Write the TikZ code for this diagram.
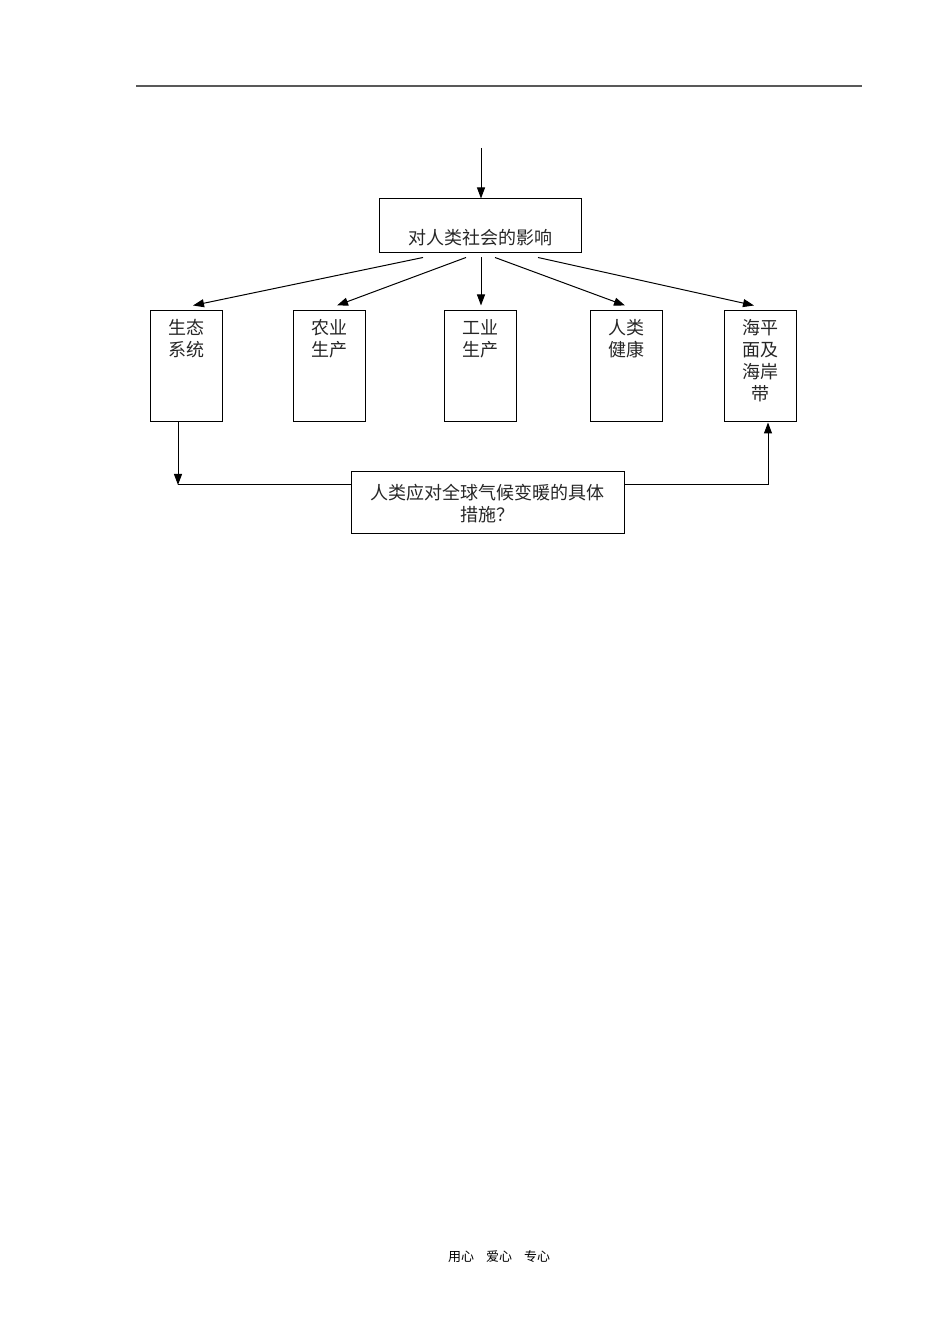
\documentclass[tikz,border=0pt]{standalone}
\usepackage{fontspec}
\newfontfamily\cjk{Noto Sans CJK SC}
\usetikzlibrary{arrows.meta,calc}
\tikzset{
  box/.style={draw,line width=1pt,inner sep=0pt,minimum width=72pt,minimum height=111pt},
  bigbox/.style={draw,line width=1pt,inner sep=0pt},
  txt/.style={font=\cjk\fontsize{18}{22}\selectfont,align=center,inner sep=0pt,text=black!85},
  arr/.style={line width=1pt,-{Triangle[length=11pt,width=8pt]}},
  ln/.style={line width=1pt}
}
\begin{document}
\begin{tikzpicture}[x=1pt,y=1pt]
\useasboundingbox (0,0) rectangle (950,1344);
% header rule
\coordinate (hl) at (136,1258);
\coordinate (hr) at (862,1258);
\draw[line width=2pt,color=black!65] (hl) -- (hr);
% top box
\coordinate (topin) at (481,1196);
\node[bigbox,minimum width=202pt,minimum height=54pt] (top) at (480,1118) {};
\node[txt] (toptext) at (480,1106) {对人类社会的影响};
\draw[arr] (topin) -- (top.north -| topin);
% five boxes
\node[box] (b1) at (186,977.5) {};
\node[box] (b2) at (329,977.5) {};
\node[box] (b3) at (480,977.5) {};
\node[box] (b4) at (626,977.5) {};
\node[box] (b5) at (760,977.5) {};
\node[txt,anchor=north] (t1) at ([yshift=-9pt]b1.north) {生态\\系统};
\node[txt,anchor=north] (t2) at ([yshift=-9pt]b2.north) {农业\\生产};
\node[txt,anchor=north] (t3) at ([yshift=-9pt]b3.north) {工业\\生产};
\node[txt,anchor=north] (t4) at ([yshift=-9pt]b4.north) {人类\\健康};
\node[txt,anchor=north] (t5) at ([yshift=-9pt]b5.north) {海平\\面及\\海岸\\带};
% arrows from top box
\draw[arr] ([xshift=-57pt,yshift=-4pt]top.south) -- ([xshift=7pt,yshift=5pt]b1.north);
\draw[arr] ([xshift=-14pt,yshift=-4pt]top.south) -- ([xshift=8pt,yshift=5pt]b2.north);
\draw[arr] ([xshift=1pt,yshift=-4pt]top.south) -- ([xshift=1pt,yshift=5pt]b3.north);
\draw[arr] ([xshift=15pt,yshift=-4pt]top.south) -- ([xshift=-1pt,yshift=5pt]b4.north);
\draw[arr] ([xshift=58pt,yshift=-4pt]top.south) -- ([xshift=-6pt,yshift=5pt]b5.north);
% bottom box
\node[bigbox,minimum width=273pt,minimum height=62pt] (bot) at (487.5,841) {};
\node[txt] (bottext) at (487.5,840.5) {人类应对全球气候变暖的具体\\措施？};
% loop connectors
\coordinate (cl) at (178,859);
\draw[arr] ([xshift=-8pt]b1.south) -- (cl);
\draw[ln] (cl) -- ([yshift=18pt]bot.west);
\draw[arr] ([yshift=18pt]bot.east) -| ([xshift=8pt]b5.south);
% footer
\node[font=\cjk\fontsize{13}{15}\selectfont,inner sep=0pt] (foot) at (499,87) {用心\hspace{12pt}爱心\hspace{12pt}专心};
\end{tikzpicture}
\end{document}
